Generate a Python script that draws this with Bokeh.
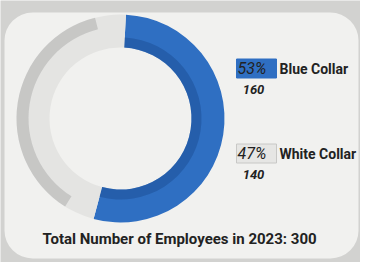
import math
from bokeh.plotting import figure
from bokeh.models import ColumnDataSource, Range1d
from bokeh.core.properties import value
from bokeh.embed import file_html
from bokeh.resources import INLINE

categories = ["Blue Collar", "White Collar"]
counts = [160, 140]
colors = ["#2f6fc2", "#e4e4e2"]
title_text = "Total Number of Employees in 2023: 300"

total = sum(counts)
W, H = 360, 262
p = figure(width=W, height=H, output_backend="svg", toolbar_location=None,
           x_range=Range1d(0, W), y_range=Range1d(0, H), min_border=0)
p.axis.visible = False
p.grid.visible = False
p.outline_line_color = None
p.background_fill_color = "#d2d2d0"
p.border_fill_color = "#d2d2d0"

BOLD = value("Roboto")

# card
p.rect(x=[181], y=[127], width=[354], height=[246], fill_color="#f1f1ef",
       line_color=None, border_radius=28)

# donut
cx, cy = 120, 144
r_out, r_in = 104, 71
start0 = math.radians(87)
starts, ends = [], []
a = start0
for c in counts:
    frac = c / total
    starts.append(a - 2 * math.pi * frac)
    ends.append(a)
    a -= 2 * math.pi * frac
src = ColumnDataSource(dict(x=[cx] * len(counts), y=[cy] * len(counts),
                            start=starts, end=ends, color=colors))
p.annular_wedge(x="x", y="y", inner_radius=r_in, outer_radius=r_out,
                start_angle="start", end_angle="end", fill_color="color",
                line_color=None, source=src)
# shading
p.annular_wedge(x=[cx], y=[cy], inner_radius=r_in, outer_radius=r_in + 10,
                start_angle=[starts[0]], end_angle=[ends[0]], fill_color="#1c4d93",
                line_color=None, fill_alpha=0.5)
p.annular_wedge(x=[cx], y=[cy], inner_radius=r_out - 12, outer_radius=r_out,
                start_angle=[starts[1] + 0.3], end_angle=[ends[1] - 0.3], fill_color="#9c9c9a",
                line_color=None, fill_alpha=0.4)

# legend labels
pcts = [round(100 * c / total) for c in counts]
lx = 236
ly = [194, 109]
box_fill = ["#2f6fc2", "#e6e6e4"]
box_line = ["#2f6fc2", "#c8c8c6"]
for i in range(len(categories)):
    p.rect(x=[lx + 20], y=[ly[i]], width=[40], height=[19], fill_color=box_fill[i],
           line_color=box_line[i])
    p.text(x=[lx + 1], y=[ly[i]], text=[f"{pcts[i]}%"], text_font=value("Roboto"),
           text_font_style="italic", text_font_size="16px", text_color="#222222",
           text_baseline="middle", text_align="left")
    p.text(x=[lx + 43], y=[ly[i]], text=[categories[i]],
           text_font=BOLD, text_font_style="bold",
           text_font_size="14px", text_color="#222222",
           text_baseline="middle", text_align="left")
    p.text(x=[lx + 17], y=[ly[i] - 21], text=[str(counts[i])],
           text_font=value("Roboto"), text_font_style="bold italic",
           text_font_size="13px", text_color="#222222",
           text_baseline="middle", text_align="center")

p.text(x=[179], y=[24], text=[title_text], text_font=BOLD,
       text_font_style="bold", text_font_size="15px", text_color="#222222",
       text_baseline="middle", text_align="center")

open("out.html", "w").write(file_html(p, INLINE))
